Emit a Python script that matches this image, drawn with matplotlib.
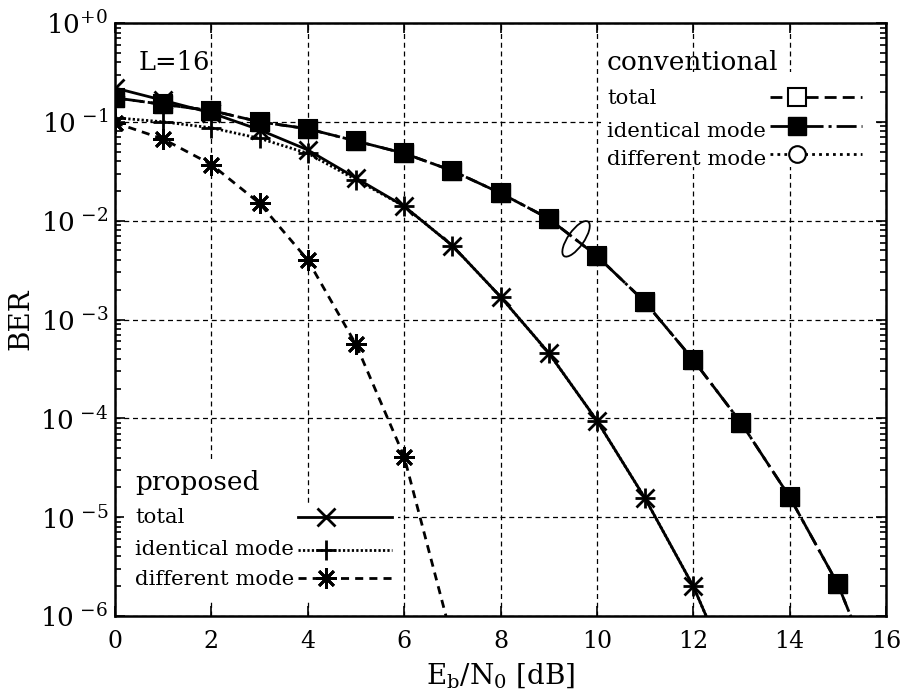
import numpy as np
import matplotlib
matplotlib.use("Agg")
import matplotlib.pyplot as plt
from matplotlib.lines import Line2D
from matplotlib.patches import Ellipse, Rectangle
from matplotlib.transforms import ScaledTranslation
from matplotlib.ticker import LogLocator, NullFormatter

plt.rcParams['font.family'] = ['DejaVu Serif']
plt.rcParams['mathtext.fontset'] = 'dejavuserif'

# conventional scheme (total and identical mode coincide)
snr_conv = [0, 1, 2, 3, 4, 5, 6, 7, 8, 9, 10, 11, 12, 13, 14, 15, 16]
ber_conv_total = [0.175, 0.15, 0.13, 0.10, 0.085, 0.064, 0.048, 0.032, 0.019,
                  0.0105, 0.0044, 0.0015, 3.9e-4, 8.9e-5, 1.6e-5, 2.1e-6, 1.3e-7]
ber_conv_ident = [0.175, 0.15, 0.13, 0.10, 0.085, 0.064, 0.048, 0.032, 0.019,
                  0.0105, 0.0044, 0.0015, 3.9e-4, 8.9e-5, 1.6e-5, 2.1e-6, 1.3e-7]

# proposed scheme
snr_prop = [0, 1, 2, 3, 4, 5, 6, 7, 8, 9, 10, 11, 12, 13]
ber_prop_total = [0.22, 0.165, 0.123, 0.083, 0.052, 0.027, 0.014, 0.0056,
                  0.0017, 4.6e-4, 9.5e-5, 1.55e-5, 2.0e-6, 1.5e-7]
ber_prop_ident = [0.11, 0.10, 0.087, 0.068, 0.048, 0.026, 0.014, 0.0056,
                  0.0017, 4.6e-4, 9.5e-5, 1.55e-5, 2.0e-6, 1.5e-7]
snr_prop_diff = [0, 1, 2, 3, 4, 5, 6, 7]
ber_prop_diff = [0.098, 0.067, 0.037, 0.015, 0.004, 5.6e-4, 4.1e-5, 5.7e-7]

x_ticks = [0, 2, 4, 6, 8, 10, 12, 14, 16]
y_ticks = [1e-6, 1e-5, 1e-4, 1e-3, 1e-2, 1e-1, 1e0]
y_ticklabels = [r'10$^{\ \mathregular{-6}}$', r'10$^{\ \mathregular{-5}}$',
                r'10$^{\ \mathregular{-4}}$', r'10$^{\ \mathregular{-3}}$',
                r'10$^{\ \mathregular{-2}}$', r'10$^{\ \mathregular{-1}}$',
                r'10$^{\mathregular{+0}}$']
mode_labels = ['total', 'identical mode', 'different mode']

# line styles
ls_conv_total = (0, (4.3, 2.2))
ls_conv_ident = (0, (7.2, 1.8, 1.1, 1.8))
ls_conv_diff = (0, (1.0, 1.5))
ls_prop_ident = (0, (0.8, 0.8))
ls_prop_diff = (0, (2.9, 2.2))
ast = (8, 2, 0)

sty_conv = [dict(linestyle=ls_conv_total, marker='s', ms=13, mfc='white', mec='black', mew=1.5),
            dict(linestyle=ls_conv_ident, marker='s', ms=13, mfc='black', mec='black'),
            dict(linestyle=ls_conv_diff, marker='o', ms=12, mfc='white', mec='black', mew=1.5)]
sty_prop = [dict(linestyle='-', marker='x', ms=13, mew=2),
            dict(linestyle=ls_prop_ident, marker='+', ms=15, mew=2),
            dict(linestyle=ls_prop_diff, marker=ast, ms=15, mew=2)]

fig = plt.figure(figsize=(9.05, 6.95), dpi=100)
ax = fig.add_axes([115 / 905, 1 - 616 / 695, 771 / 905, 593 / 695])

# proposed curves first, conventional squares drawn on top
ax.plot(snr_prop, ber_prop_ident, color='black', lw=2, zorder=3, **sty_prop[1])
ax.plot(snr_prop, ber_prop_total, color='black', lw=2, zorder=3, **sty_prop[0])
ax.plot(snr_prop_diff, ber_prop_diff, color='black', lw=2, zorder=3, **sty_prop[2])
ax.plot(snr_conv, ber_conv_total, color='black', lw=2, zorder=3, **sty_conv[0])
ax.plot(snr_conv, ber_conv_ident, color='black', lw=2, zorder=3, **sty_conv[1])

ax.set_yscale('log')
ax.set_xlim(0, 16)
ax.set_ylim(1e-6, 1)
ax.set_xticks(x_ticks)
ax.set_xticklabels([str(v) for v in x_ticks])
ax.set_yticks(y_ticks)
ax.set_yticklabels(y_ticklabels)
ax.yaxis.set_minor_locator(LogLocator(base=10, subs=np.arange(2, 10), numticks=20))
ax.yaxis.set_minor_formatter(NullFormatter())
ax.tick_params(which='both', direction='in', top=True, right=True, width=1.2)
ax.tick_params(axis='x', which='major', length=7, labelsize=17, pad=10)
ax.tick_params(axis='y', which='major', length=7, labelsize=19, pad=5)
ax.tick_params(which='minor', length=4)
ax.grid(True, which='major', color='black', lw=0.9, linestyle=(0, (4, 3)))
for s in ax.spines.values():
    s.set_linewidth(1.8)

ax.set_xlabel(r'E$_{\mathregular{b}}$/N$_{\mathregular{0}}$ [dB]', fontsize=20, labelpad=6)
ax.set_ylabel('BER', fontsize=20, labelpad=4)

ax.text(0.03, 0.955, 'L=16', transform=ax.transAxes, fontsize=18.5, va='top', ha='left')


def draw_key(title, title_xy, text_x, baselines, line_ys, x0, x1, xm, styles, boxes):
    for bx, by, bw, bh in boxes:
        ax.add_patch(Rectangle((bx, by), bw, bh, transform=ax.transAxes,
                               facecolor='white', edgecolor='none', zorder=2.6))
    ax.text(title_xy[0], title_xy[1], title, transform=ax.transAxes, fontsize=19,
            va='baseline', ha='left', zorder=5)
    for lab, yb, yl, st in zip(mode_labels, baselines, line_ys, styles):
        ax.text(text_x, yb, lab, transform=ax.transAxes, fontsize=15.3,
                va='baseline', ha='left', zorder=5)
        line_st = {k: v for k, v in st.items() if k == 'linestyle'}
        mark_st = {k: v for k, v in st.items() if k != 'linestyle'}
        ax.add_line(Line2D([x0, x1], [yl, yl], transform=ax.transAxes, color='black',
                           lw=2, zorder=5, **line_st))
        ax.add_line(Line2D([xm], [yl], transform=ax.transAxes, color='black',
                           linestyle='none', zorder=6, **mark_st))


draw_key('conventional', (0.638, 0.921), 0.638,
         [0.863, 0.808, 0.760], [0.875, 0.826, 0.779],
         0.850, 0.969, 0.885, sty_conv,
         [(0.63, 0.757, 0.355, 0.16)])

draw_key('proposed', (0.026, 0.2125), 0.026,
         [0.157, 0.103, 0.052], [0.167, 0.111, 0.064],
         0.237, 0.359, 0.274, sty_prop,
         [(0.012, 0.19, 0.2, 0.07), (0.012, 0.025, 0.355, 0.165)])

# ring marking that total and identical mode coincide
ring_tr = fig.dpi_scale_trans + ScaledTranslation(0.598, 0.636, ax.transAxes)
ax.add_patch(Ellipse((0, 0), width=0.42, height=0.16, angle=55, fill=False,
                     lw=1.3, edgecolor='black', transform=ring_tr, zorder=4))

fig.savefig('out.png', dpi=100)
